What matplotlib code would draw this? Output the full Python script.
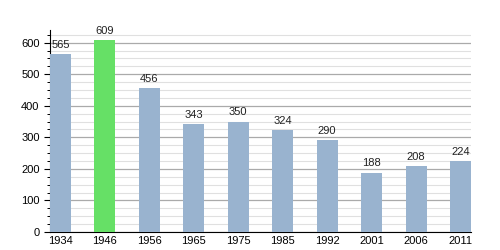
import matplotlib.pyplot as plt
import numpy as np
from matplotlib.ticker import MultipleLocator

years = ['1934', '1946', '1956', '1965', '1975', '1985', '1992', '2001', '2006', '2011']
population = [565, 609, 456, 343, 350, 324, 290, 188, 208, 224]
highlight = '1946'

plt.rcParams['font.family'] = ['Liberation Sans', 'DejaVu Sans']

fig = plt.figure(figsize=(5, 2.5), dpi=100)
ax = fig.add_axes([0.1, 0.072, 0.842, 0.808])

x = np.arange(len(years))
width = 0.47
colors = ['#66e066' if y == highlight else '#99b3cf' for y in years]
bars = ax.bar(x, population, width=width, color=colors, zorder=3)
ax.bar_label(bars, labels=[str(v) for v in population], padding=3, fontsize=8, color='#222222')

ax.set_xlim(-width / 2, len(years) - 1 + width / 2)
ax.set_ylim(0, 640)
ax.set_xticks(x)
ax.set_xticklabels(years, fontsize=8)
ax.yaxis.set_major_locator(MultipleLocator(100))
ax.yaxis.set_minor_locator(MultipleLocator(25))
ax.tick_params(axis='y', labelsize=8, length=4, width=0.8)
ax.tick_params(axis='y', which='minor', length=2.5, width=0.7)
ax.tick_params(axis='x', length=0, pad=3)

ax.grid(axis='y', which='major', color='#aaaaaa', linewidth=0.9, zorder=0)
ax.grid(axis='y', which='minor', color='#e0e0e0', linewidth=0.8, zorder=0)

ax.spines['right'].set_visible(False)
ax.spines['top'].set_visible(False)

fig.savefig('out.png', dpi=100)
